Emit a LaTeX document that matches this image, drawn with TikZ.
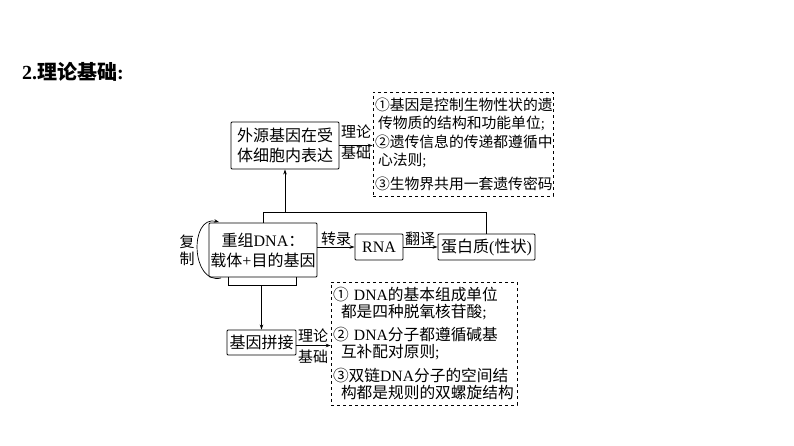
\documentclass[tikz,border=0pt]{standalone}
\usepackage{fontspec}
\setmainfont{Liberation Serif}
\newfontfamily\cjk{Noto Sans CJK SC}
\usetikzlibrary{arrows.meta}
\begin{document}
\begin{tikzpicture}[x=1pt,y=-1pt,
  box/.style={draw, line width=0.9pt, rounded corners=1pt, inner sep=0pt, align=center, font=\fontsize{16}{20}\selectfont},
  dbox/.style={draw, dashed, line width=0.7pt, inner xsep=2pt, inner ysep=0pt, align=left},
  arr/.style={-{Stealth[length=5pt,width=3.5pt]}, line width=0.7pt},
  ln/.style={line width=0.7pt},
  lbl/.style={font=\cjk\fontsize{15}{18}\selectfont, inner sep=0pt}]
\useasboundingbox (0,0) rectangle (794,446);
% title
\node[anchor=west, inner sep=0pt, font=\fontsize{20}{22}\selectfont\bfseries] (title) at (22,72) {2.{\cjk 理论基础}:};
% boxes
\node[box, minimum width=108pt, minimum height=47pt] (expr) at (285,145.5) {{\cjk 外源基因在受}\\{\cjk 体细胞内表达}};
\node[box, minimum width=108pt, minimum height=54pt] (dna) at (263,250) {{\cjk 重组}DNA{\cjk ：}\\{\cjk 载体}+{\cjk 目的基因}};
\node[box, minimum width=48pt, minimum height=26pt] (rna) at (379,247) {RNA};
\node[box, minimum width=97pt, minimum height=26pt] (prot) at (486.5,247) {{\cjk 蛋白质}({\cjk 性状})};
\node[box, minimum width=69pt, minimum height=25pt] (spl) at (261.5,342.5) {{\cjk 基因拼接}};
% dashed boxes
\node[dbox, minimum width=180pt, minimum height=104pt, text width=176pt, font=\fontsize{14.8}{18.5}\selectfont] (d1) at (463,144)
 {{\cjk ①基因是控制生物性状的遗}\\
  \hspace*{3pt}{\cjk 传物质的结构和功能单位};\\
  {\cjk ②遗传信息的传递都遵循中}\\
  \hspace*{3pt}{\cjk 心法则};\\[5pt]
  {\cjk ③生物界共用一套遗传密码}};
\node[dbox, minimum width=186pt, minimum height=123pt, text width=182pt, font=\fontsize{15.7}{17.5}\selectfont] (d2) at (424,343.5)
 {{\cjk ①} DNA{\cjk 的基本组成单位}\\
  \hspace*{8pt}{\cjk 都是四种脱氧核苷酸};\\[5pt]
  {\cjk ②} DNA{\cjk 分子都遵循碱基}\\
  \hspace*{8pt}{\cjk 互补配对原则};\\[6pt]
  {\cjk ③双链}DNA{\cjk 分子的空间结}\\
  \hspace*{8pt}{\cjk 构都是规则的双螺旋结构}};
% arrows with labels
\draw[arr] (expr.east) -- (expr.east -| d1.west);
\node[lbl] (l1a) at (356,132) {理论};
\node[lbl] (l1b) at (356,153) {基础};
\draw[arr] ([yshift=-3pt]spl.east) -- ([yshift=-3pt]spl.east -| d2.west);
\node[lbl] (l2a) at (313,336) {理论};
\node[lbl] (l2b) at (313,357) {基础};
\draw[arr] (rna.west -| dna.east) -- (rna.west);
\node[lbl] (t1) at (336,239) {转录};
\draw[arr] (rna.east) -- (prot.west);
\node[lbl] (t2) at (420,239) {翻译};
% top connector
\coordinate (top) at (0,212);
\draw[ln] (dna.north) |- (prot.north |- top) -- (prot.north);
\draw[arr] (expr.south |- top) -- (expr.south);
% bracket below dna
\coordinate (bl) at (228,285);
\coordinate (br) at (296,285);
\draw[ln] (bl |- dna.south) -- (bl) -- (br) -- (br |- dna.south);
\draw[arr] (spl.north |- bl) -- (spl.north);
% replication loop
\coordinate (rs) at (221,278);
\coordinate (re) at (219,222);
\draw[arr] (rs) .. controls (191,285) and (189,215) .. (re);
\node[lbl] (f1) at (187,242) {复};
\node[lbl] (f2) at (187,259) {制};
\end{tikzpicture}
\end{document}
